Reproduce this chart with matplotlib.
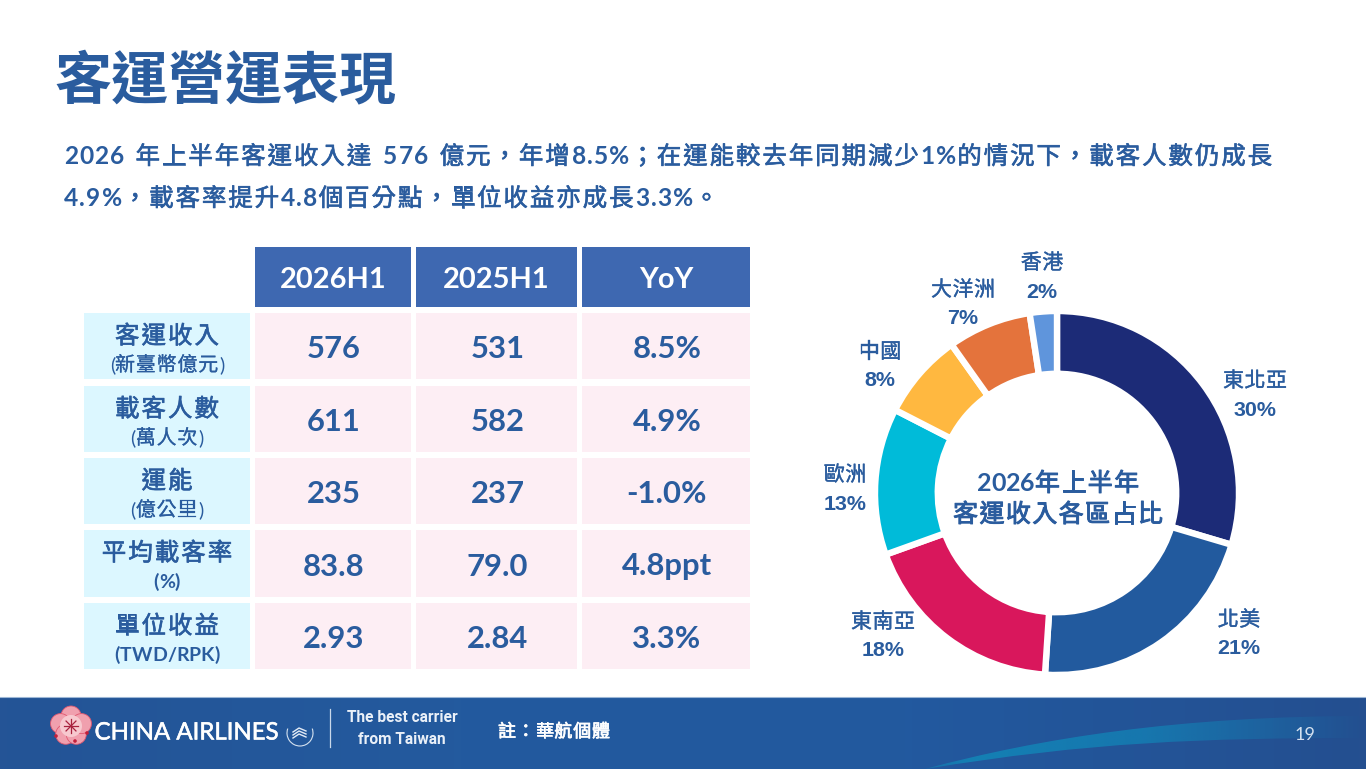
"""Passenger revenue slide: KPI table plus regional donut, drawn in pixel coordinates."""
import numpy as np
import matplotlib
matplotlib.use("Agg")
import matplotlib.pyplot as plt
import matplotlib.patheffects as pe
from matplotlib.colors import LinearSegmentedColormap, to_rgb
from matplotlib.font_manager import FontProperties, findfont, get_font
from matplotlib.ft2font import LoadFlags
from matplotlib.patches import Arc, Circle, PathPatch, Rectangle
from matplotlib.path import Path

W, H = 1366, 769
CJK = "Noto Sans CJK TC"
LATIN = "Lato"
NAVY = "#2A5C9E"

TITLE = "客運營運表現"
INTRO = ["2026 年上半年客運收入達 576 億元，年增8.5%；在運能較去年同期減少1%的情況下，載客人數仍成長",
         "4.9%，載客率提升4.8個百分點，單位收益亦成長3.3%。"]

COLUMNS = ["2026H1", "2025H1", "YoY"]
ROW_NAMES = ["客運收入", "載客人數", "運能", "平均載客率", "單位收益"]
ROW_UNITS = ["(新臺幣億元)", "(萬人次)", "(億公里)", "(%)", "(TWD/RPK)"]
VALUES_2026 = ["576", "611", "235", "83.8", "2.93"]
VALUES_2025 = ["531", "582", "237", "79.0", "2.84"]
VALUES_YOY = ["8.5%", "4.9%", "-1.0%", "4.8ppt", "3.3%"]

REGIONS = ["東北亞", "北美", "東南亞", "歐洲", "中國", "大洋洲", "香港"]
REGION_LABELS = ["30%", "21%", "18%", "13%", "8%", "7%", "2%"]
# unrounded shares estimated from the arc lengths
REGION_SHARES = [29.5, 21.4, 18.4, 13.0, 7.6, 7.4, 2.4]
REGION_COLORS = ["#1C2B77", "#225A9E", "#D9175C", "#00BBD9", "#FFB840", "#E4733C", "#5F95DC"]

COL_X = [(255, 411), (416, 577), (582, 750)]
ROW_Y = [(313, 379), (386, 452), (458, 524), (530, 597), (603, 669)]
LABEL_POS = [(1255, 379), (1239, 618), (883, 620), (845, 473), (880, 350), (963, 288), (1042, 261)]


def px(size):
    return size * 0.72


def is_cjk(ch):
    return ord(ch) > 0x2E7F


def advance(ch, prop, size):
    # horizontal advance in pixels of a single glyph
    font = get_font(findfont(prop))
    font.set_size(px(size), 100)
    glyph = font.load_char(ord(ch), flags=LoadFlags.NO_HINTING)
    return glyph.linearHoriAdvance / 65536


def spaced(ax, x, base, text, size, extra, ha="left", latin_bold=True, stroke=0.35, color=NAVY, latin_extra=0):
    """Letter-spaced line: CJK gets a thin stroke for a medium weight, Latin is bold."""
    lat = FontProperties(family=LATIN, weight="bold" if latin_bold else "normal")
    widths = []
    for ch in text:
        if is_cjk(ch):
            widths.append(size + extra)
        elif ch == " ":
            widths.append(size * 0.42)
        else:
            widths.append(advance(ch, lat, size) + latin_extra)
    if ha == "center":
        x -= (sum(widths) - (extra if is_cjk(text[-1]) else 0)) / 2
    for ch, w in zip(text, widths):
        if is_cjk(ch):
            ax.text(x, base, ch, color=color, fontsize=px(size), family=[CJK], ha="left", va="baseline",
                    zorder=3, path_effects=[pe.withStroke(linewidth=stroke, foreground=color)])
        elif ch != " ":
            ax.text(x, base, ch, color=color, fontsize=px(size), family=[LATIN],
                    fontweight="bold" if latin_bold else "normal", ha="left", va="baseline", zorder=3)
        x += w


def box(ax, x0, x1, y0, y1, color):
    ax.add_patch(Rectangle((x0, y0), x1 - x0, y1 - y0, facecolor=color, edgecolor="none", zorder=1))


def draw_footer(ax):
    stops = [to_rgb(c) for c in ("#245496", "#235A9E", "#22599F", "#244F90")]
    cmap = LinearSegmentedColormap.from_list("foot", stops)
    grad = np.linspace(0, 1, 400).reshape(1, -1)
    ax.imshow(grad, cmap=cmap, extent=(0, W, 769, 697), aspect="auto", zorder=1)
    ax.plot([0, W], [697, 697], color="#9DB7D6", lw=0.8, zorder=2)

    # swoosh fading out to the right
    verts = [(925, 769), (1040, 738), (1180, 716), (1366, 716),
             (1366, 738), (1200, 738), (1090, 742), (925, 769), (925, 769)]
    codes = [Path.MOVETO, Path.CURVE4, Path.CURVE4, Path.CURVE4, Path.LINETO,
             Path.CURVE4, Path.CURVE4, Path.CURVE4, Path.CLOSEPOLY]
    rgba = np.zeros((1, 300, 4))
    rgba[..., :3] = to_rgb("#1480B4")
    rgba[..., 3] = np.interp(np.linspace(0, 1, 300), [0, 0.1, 0.5, 1], [0.6, 1.0, 0.8, 0.0])
    im = ax.imshow(rgba, extent=(925, W, 769, 697), aspect="auto", zorder=2)
    clip = PathPatch(Path(verts, codes), transform=ax.transData, facecolor="none", edgecolor="none")
    ax.add_patch(clip)
    im.set_clip_path(clip)

    # logo: plum blossom, wordmark, alliance badge
    for a, d in zip(np.deg2rad([90, 162, 234, 306, 18]), (11, 11, 9, 9, 11)):
        ax.add_patch(Circle((71 + d * np.cos(a), 727 - d * np.sin(a)), 10,
                            facecolor="#F0A0AE", edgecolor="#E0576F", lw=0.6, zorder=3))
    ax.add_patch(Circle((71, 726), 11, facecolor="#F7C9CF", edgecolor="none", zorder=3))
    for a in np.deg2rad(np.arange(0, 360, 45)):
        ax.plot([71, 71 + 7 * np.cos(a)], [726, 726 + 7 * np.sin(a)], color="#A8233F", lw=0.9, zorder=4)
    for x, y in ((56, 736), (75, 741), (87, 733)):
        ax.add_patch(Circle((x, y), 1.8, facecolor="#C2203B", edgecolor="none", zorder=4))
    ax.text(187, 733, "CHINA AIRLINES", color="white", fontsize=px(24), family=[LATIN, CJK], ha="center",
            va="center", zorder=4, path_effects=[pe.withStroke(linewidth=0.4, foreground="white")])
    ax.add_patch(Arc((300, 733), 26, 26, theta1=-20, theta2=200, edgecolor="#D5E2F0", lw=0.8, zorder=4))
    for dy in (-3, 0, 3):
        ax.plot([293, 299, 306], [733 + dy + 2, 733 + dy - 2, 733 + dy + 1], color="#E4ECF6", lw=1, zorder=4)
    ax.plot([330, 330], [709, 747], color="#C9D8EA", lw=0.9, zorder=4)
    ax.text(402, 717, "The best carrier", color="#EAF0F8", fontsize=px(15.5), fontweight="bold",
            family=["Roboto", CJK], ha="center", va="center", zorder=4)
    ax.text(402, 740, "from Taiwan", color="#EAF0F8", fontsize=px(15.5), fontweight="bold",
            family=["Roboto", CJK], ha="center", va="center", zorder=4)
    spaced(ax, 554, 737, "註：華航個體", 18, 0.8, ha="center", stroke=0.5, color="white")
    ax.text(1305, 735, "19", color="#D5E2F0", fontsize=px(18), family=[LATIN, CJK],
            ha="center", va="center", zorder=4)


def draw_table(ax):
    for (x0, x1), name in zip(COL_X, COLUMNS):
        box(ax, x0, x1, 247, 307, "#3E68B1")
        ax.text((x0 + x1) / 2, 280, name, color="white", fontsize=px(29), fontweight="bold",
                family=[LATIN, CJK], ha="center", va="center", zorder=3)

    columns = [VALUES_2026, VALUES_2025, VALUES_YOY]
    for i, (y0, y1) in enumerate(ROW_Y):
        box(ax, 84, 250, y0, y1, "#DCF7FF")
        spaced(ax, 167, y0 + 30.5, ROW_NAMES[i], 24.5, 2, ha="center", stroke=0.45)
        latin_only = not any(is_cjk(c) for c in ROW_UNITS[i])
        spaced(ax, 167, y0 + 58, ROW_UNITS[i], 19.5 if latin_only else 20, 0.8, ha="center",
               latin_bold=latin_only, stroke=0.15)
        for (x0, x1), col in zip(COL_X, columns):
            box(ax, x0, x1, y0, y1, "#FDEEF4")
            ax.text((x0 + x1) / 2 + 1, (y0 + y1) / 2 + 3, col[i], color=NAVY, fontsize=px(31),
                    fontweight="bold", family=[LATIN, CJK], ha="center", va="center", zorder=3)


def draw_donut(fig, ax):
    cx, cy, r = 1057, 493, 182
    pie_ax = fig.add_axes([(cx - r) / W, 1 - (cy + r) / H, 2 * r / W, 2 * r / H])
    pie_ax.pie(REGION_SHARES, colors=REGION_COLORS, startangle=90, counterclock=False, radius=1,
               wedgeprops=dict(width=0.345, edgecolor="white", linewidth=4.6))
    pie_ax.set_xlim(-1, 1)
    pie_ax.set_ylim(-1, 1)
    pie_ax.set_zorder(0)
    ax.set_zorder(1)
    ax.patch.set_alpha(0)

    for (x, y), name, label in zip(LABEL_POS, REGIONS, REGION_LABELS):
        spaced(ax, x, y + 8, name, 21, 0.5, ha="center", stroke=0.25)
        ax.text(x, y + 31, label, color=NAVY, fontsize=px(21.5), fontweight="bold",
                family=["Liberation Sans", CJK], ha="center", va="center", zorder=3)
    spaced(ax, 1058, 491, "2026年上半年", 25, 1.4, ha="center", stroke=0.7)
    spaced(ax, 1058, 522, "客運收入各區占比", 25, 1.4, ha="center", stroke=0.7)


def main():
    fig = plt.figure(figsize=(W / 100, H / 100), dpi=100, facecolor="white")
    ax = fig.add_axes([0, 0, 1, 1])

    draw_footer(ax)
    ax.text(54, 81, TITLE, color=NAVY, fontsize=px(57), fontweight="bold", family=[CJK],
            ha="left", va="center", zorder=3)
    for base, line in zip((164, 206), INTRO):
        spaced(ax, 64, base, line, 24.5, 1.9, stroke=0.45, latin_extra=1.1)
    draw_table(ax)
    draw_donut(fig, ax)

    ax.set_xlim(0, W)
    ax.set_ylim(H, 0)
    ax.axis("off")
    fig.savefig("out.png", dpi=100)


if __name__ == "__main__":
    main()
